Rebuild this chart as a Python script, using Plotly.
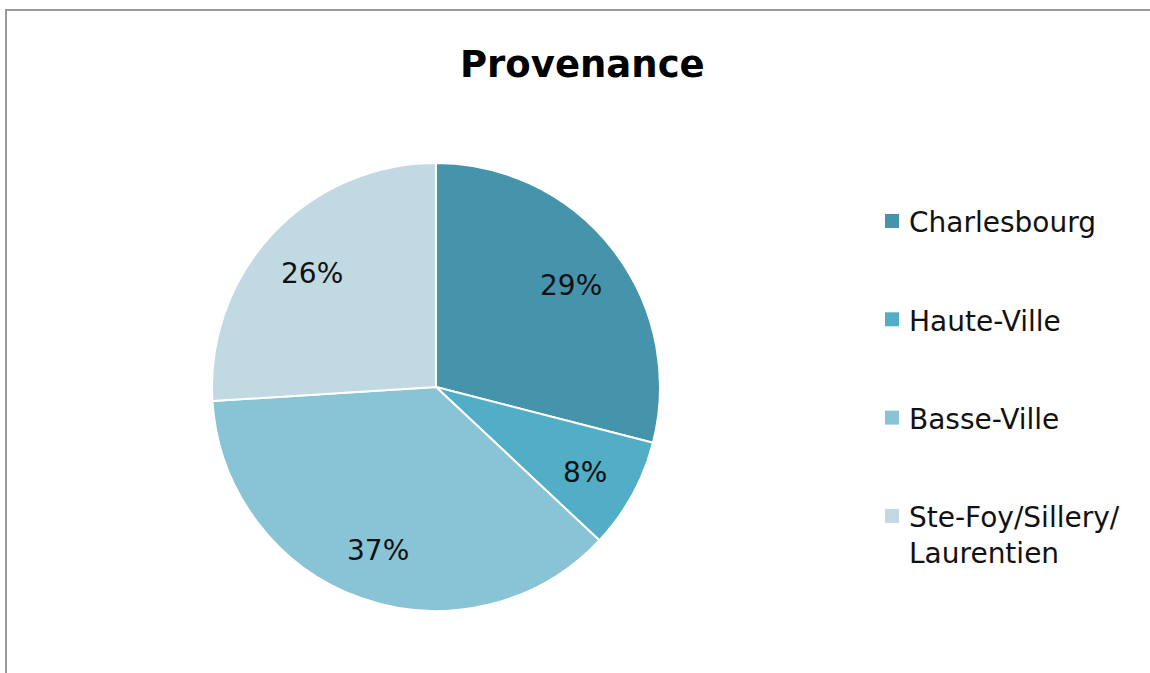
import math
import plotly.graph_objects as go

# Provenance breakdown (percent of respondents)
categories = ["Charlesbourg", "Haute-Ville", "Basse-Ville", "Ste-Foy/Sillery/<br>Laurentien"]
values = [29, 8, 37, 26]
colors = ["#4594AC", "#52ADC6", "#89C4D6", "#C1D9E3"]
title_text = "Provenance"

W, H = 1150, 673
FONT = "DejaVu Sans"

# Pie placement in pixels
cx, cy, R = 436, 387, 224

fig = go.Figure()
fig.add_trace(go.Pie(
    labels=categories,
    values=values,
    sort=False,
    direction="clockwise",
    rotation=0,
    marker=dict(colors=colors, line=dict(color="white", width=2)),
    textinfo="none",
    hoverinfo="label+percent",
    showlegend=False,
    domain=dict(x=[(cx - R) / W, (cx + R) / W], y=[1 - (cy + R) / H, 1 - (cy - R) / H]),
))

annotations = []
shapes = []

# Percentage labels placed at each slice's mid-angle
total = sum(values)
cum = 0
for v in values:
    mid = (cum + v / 2) / total * 2 * math.pi
    cum += v
    r = 0.76 * R
    px = cx + r * math.sin(mid)
    py = cy - r * math.cos(mid) + 3
    annotations.append(dict(
        x=px / W, y=1 - py / H, xref="paper", yref="paper",
        text=f"{round(v / total * 100)}%", showarrow=False,
        xanchor="center", yanchor="middle",
        font=dict(family=FONT, size=28, color="#111111"),
    ))

# Title
annotations.append(dict(
    x=582 / W, y=1 - 64 / H, xref="paper", yref="paper",
    text=f"<b>{title_text}</b>", showarrow=False,
    xanchor="center", yanchor="middle",
    font=dict(family=FONT, size=37, color="#000000"),
))

# Legend: swatch + label per category
leg_x, leg_y0, leg_step, sw = 885, 221, 98.3, 14
for i, (lab, col) in enumerate(zip(categories, colors)):
    yc = leg_y0 + i * leg_step
    shapes.append(dict(
        type="rect", xref="paper", yref="paper",
        x0=leg_x / W, x1=(leg_x + sw) / W,
        y0=1 - (yc + sw / 2) / H, y1=1 - (yc - sw / 2) / H,
        fillcolor=col, line=dict(width=0),
    ))
    n_lines = lab.count("<br>") + 1
    yc_text = yc + 2 + (n_lines - 1) * 36 / 2
    annotations.append(dict(
        x=(leg_x + sw + 8) / W, y=1 - yc_text / H, xref="paper", yref="paper",
        text=lab, showarrow=False, align="left",
        xanchor="left", yanchor="middle",
        font=dict(family=FONT, size=28, color="#111111"),
    ))

# Chart frame
shapes.append(dict(
    type="rect", xref="paper", yref="paper",
    x0=6 / W, x1=1.05, y0=-0.05, y1=1 - 10 / H,
    line=dict(color="#9A9A9A", width=2), fillcolor="rgba(0,0,0,0)", layer="below",
))

fig.update_layout(
    width=W, height=H, autosize=False,
    margin=dict(l=0, r=0, t=0, b=0),
    paper_bgcolor="white", plot_bgcolor="white",
    annotations=annotations, shapes=shapes,
)

fig.write_html("out.html")
